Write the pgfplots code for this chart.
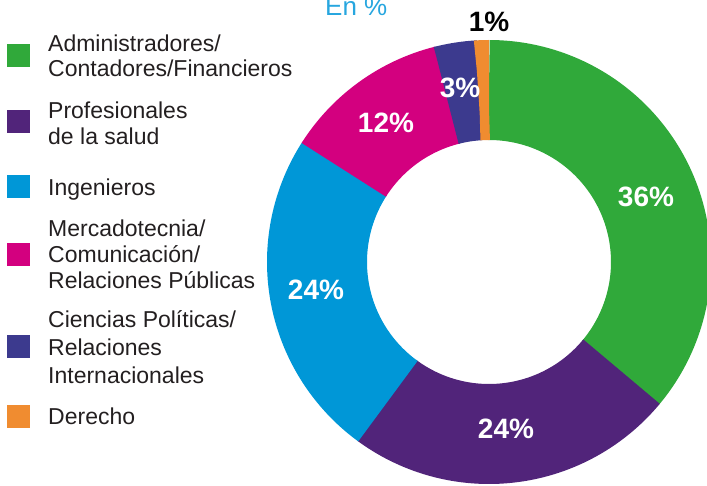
\documentclass[border=0pt]{standalone}
\usepackage{pgfplots}
\pgfplotsset{compat=1.18}
\usepackage{fontspec}
\setmainfont{Liberation Sans}
\definecolor{cgreen}{HTML}{30A93A}
\definecolor{cpurple}{HTML}{51247A}
\definecolor{cblue}{HTML}{0097D7}
\definecolor{cmagenta}{HTML}{D3007F}
\definecolor{cindigo}{HTML}{3C3A8E}
\definecolor{corange}{HTML}{F08C30}
\definecolor{ctitle}{HTML}{27A6DF}
\definecolor{ctext}{HTML}{231F20}
% #1 start (%), #2 value (%), #3 colour, #4 overlap (degrees) under the next slice
\newcommand{\slice}[4]{%
  \pgfmathsetmacro{\sa}{90-3.6*(#1)}%
  \pgfmathsetmacro{\sb}{90-3.6*((#1)+(#2))-(#4)}%
  \edef\doslice{\noexpand\addplot[draw=#3, line width=100pt, line cap=butt, line join=round, domain=\sb:\sa, samples=90, variable=\noexpand\t]}%
  \doslice ({489+172*cos(\t)}, {223+172*sin(\t)});%
}
\newcommand{\leg}[2]{\node[anchor=base west, inner sep=0pt, text=ctext, font=\fontsize{23}{26}\selectfont] at (axis cs:48,#1) {#2};}
\newcommand{\pct}[4]{\node[anchor=base, inner sep=0pt, text=#4, font=\bfseries\fontsize{28}{30}\selectfont] at (axis cs:#1,#2) {#3};}
\begin{document}
\begin{tikzpicture}
\useasboundingbox (0,0) rectangle (707pt,485pt);
\begin{axis}[at={(0,0)}, anchor=south west, scale only axis, width=707pt, height=485pt,
  xmin=0, xmax=707, ymin=0, ymax=485, hide axis, clip=false]
% donut: start (in %), value (in %), colour
\slice{0}{36}{cgreen}{0.5}
\slice{36}{24}{cpurple}{0.5}
\slice{60}{24}{cblue}{0.5}
\slice{84}{12}{cmagenta}{0.5}
\slice{96}{3}{cindigo}{0.5}
\slice{99}{1}{corange}{0}
% legend squares
\addplot[only marks, mark=square*, mark size=11pt, color=cgreen] coordinates {(18,430)};
\addplot[only marks, mark=square*, mark size=11pt, color=cpurple] coordinates {(18,363.5)};
\addplot[only marks, mark=square*, mark size=11pt, color=cblue] coordinates {(18,299)};
\addplot[only marks, mark=square*, mark size=11pt, color=cmagenta] coordinates {(18,231)};
\addplot[only marks, mark=square*, mark size=11pt, color=cindigo] coordinates {(18,139)};
\addplot[only marks, mark=square*, mark size=11pt, color=corange] coordinates {(18,69)};
% legend text
\leg{433.5}{Administradores/}
\leg{408.3}{Contadores/Financieros}
\leg{366.7}{Profesionales}
\leg{340.5}{de la salud}
\leg{289.5}{Ingenieros}
\leg{248.3}{Mercadotecnia/}
\leg{222}{Comunicación/}
\leg{196}{Relaciones Públicas}
\leg{157}{Ciencias Políticas/}
\leg{129}{Relaciones}
\leg{102}{Internacionales}
\leg{60}{Derecho}
% slice labels
\pct{646}{278.3}{36\%}{white}
\pct{506}{47}{24\%}{white}
\pct{316}{185}{24\%}{white}
\pct{386}{352.3}{12\%}{white}
\pct{460}{387.3}{3\%}{white}
\pct{489}{453.3}{1\%}{black}
% title (cut at the top, as in the reference)
\node[anchor=base west, inner sep=0pt, text=ctitle, font=\fontsize{26}{28}\selectfont] at (axis cs:325,469) {En \%};
\end{axis}
\end{tikzpicture}
\end{document}
